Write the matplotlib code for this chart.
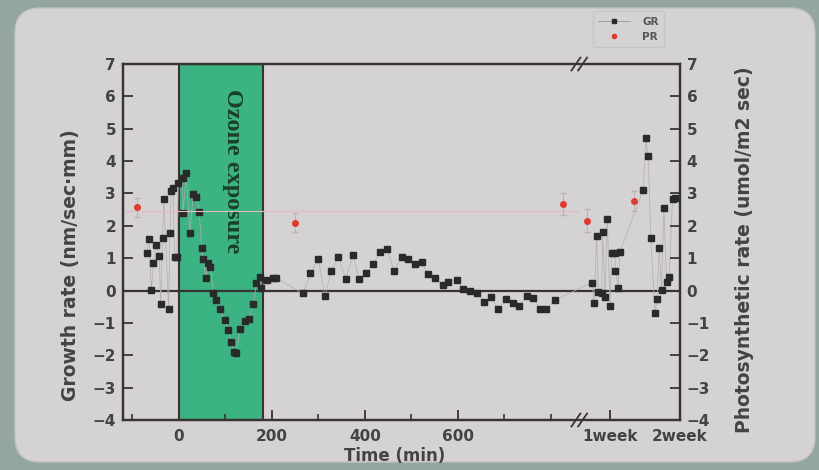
import numpy as np
import matplotlib
matplotlib.use("Agg")
import matplotlib.pyplot as plt
from matplotlib.patches import FancyBboxPatch
from matplotlib.lines import Line2D
from matplotlib.ticker import FixedLocator, NullFormatter

# growth rate, first day (minutes after start of ozone exposure)
gr_min = [-69, -64, -59, -55, -49, -42, -39, -35, -32, -22, -19, -16, -12, -9, -4, -1,
          8, 9, 16, 24, 31, 38, 44, 49, 52, 58, 62, 68, 74, 81, 88, 99, 106, 113, 118,
          124, 131, 142, 150, 160, 167, 174, 176, 189, 203, 210,
          267, 283, 300, 314, 328, 343, 359, 374, 388, 402, 418, 432, 447, 463, 479,
          493, 507, 522, 536, 551, 567, 579, 597, 611, 626, 640, 656, 672, 687, 703,
          718, 732, 748, 762, 776, 790, 809]
gr_val = [1.15, 1.59, 0.02, 0.84, 1.41, 1.07, -0.42, 1.61, 2.83, -0.56, 1.79, 3.08, 3.16, 1.04, 1.04, 3.31,
          3.47, 2.39, 3.62, 1.77, 2.98, 2.88, 2.44, 1.30, 0.99, 0.38, 0.84, 0.72, -0.09, -0.30, -0.58,
          -0.91, -1.22, -1.58, -1.90, -1.94, -1.20, -0.94, -0.89, -0.41, 0.22, 0.43, 0.08, 0.32, 0.40, 0.38,
          -0.09, 0.55, 0.96, -0.17, 0.61, 1.04, 0.36, 1.10, 0.36, 0.53, 0.82, 1.18, 1.27, 0.61, 1.04,
          0.96, 0.82, 0.87, 0.51, 0.38, 0.17, 0.27, 0.32, 0.04, -0.02, -0.07, -0.35, -0.21, -0.58, -0.27,
          -0.38, -0.48, -0.17, -0.24, -0.58, -0.58, -0.29]

# growth rate, later days
gr_day = [5.17, 5.39, 5.66, 5.82, 6.16, 6.26, 6.49, 6.72, 7.0, 7.17, 7.5, 7.55, 7.83, 8.0,
          10.33, 10.6, 10.83, 11.1, 11.5, 11.73, 11.93, 12.17, 12.4, 12.67, 12.93, 13.27, 13.5]
gr_day_val = [0.24, -0.40, 1.68, -0.04, -0.09, 1.80, -0.19, 2.21, -0.47, 1.17, 1.17, 0.61, 0.09, 1.20,
              3.11, 4.70, 4.16, 1.61, -0.69, -0.26, 1.30, 0.02, 2.54, 0.27, 0.43, 2.83, 2.87]

# photosynthetic rate
pr_min = [-90, 249, 825]
pr_val = [2.57, 2.10, 2.67]
pr_err = [0.3, 0.3, 0.35]
pr_day = [4.67, 9.4]
pr_day_val = [2.16, 2.77]
pr_day_err = [0.35, 0.3]

ozone_start, ozone_end = 0, 180

x_major = [0, 200, 400, 600, 10080, 20160]
x_labels = ['0', '200', '400', '600', '1week', '2week']
x_minor = [-100, 100, 300, 500, 700, 800]

# broken time axis: linear minutes up to the break, then days squeezed in
slope = 150 / 10080.0
xp = np.array([-1e5, 860, 5700, 1e6])
fp = np.array([-1e5, 860, 927 + (5700 - 10080) * slope, 927 + (1e6 - 10080) * slope])


def fwd(t):
    return np.interp(t, xp, fp)


def inv(p):
    return np.interp(p, fp, xp)


outer = '#93a69f'
panel = '#d4d2d3'
ink = '#3a3333'
txt = '#434343'

plt.rcParams['font.family'] = ['DejaVu Sans']
plt.rcParams['font.weight'] = 'bold'

fig = plt.figure(figsize=(8.2, 4.7), dpi=100)
fig.patch.set_facecolor(outer)
fig.patches.append(FancyBboxPatch((0.15, 0.08), 8.0, 4.54, boxstyle="round,pad=0,rounding_size=0.25",
                                  transform=fig.dpi_scale_trans, facecolor=panel, edgecolor='#c2c0c1',
                                  lw=1.0, zorder=-5))

ax = fig.add_axes([0.150, 0.1064, 0.679, 0.7574])
ax.set_facecolor('none')
ax.set_xscale('function', functions=(fwd, inv))
ax.set_xlim(-120, 20160)
ax.set_ylim(-4, 7)
ax.xaxis.set_major_locator(FixedLocator(x_major))
ax.xaxis.set_major_formatter(NullFormatter())
ax.xaxis.set_minor_locator(FixedLocator(x_minor))

ax.axvspan(ozone_start, ozone_end, facecolor='#3bb382', edgecolor=ink, lw=1.5, zorder=1)
ax.text(116, 3.68, 'Ozone exposure', rotation=270, ha='center', va='center',
        family='Liberation Serif', fontsize=17.5, fontweight='bold', color='#1b3f2b', zorder=2)
ax.axhline(0, color=ink, lw=1.6, zorder=2)

t_all = np.array(gr_min + [d * 1440 for d in gr_day])
v_all = np.array(gr_val + gr_day_val)
ax.plot(t_all, v_all, color='#b3adae', lw=0.5, zorder=3)
ax.plot(t_all, v_all, ls='none', marker='s', ms=4.6, color='#2a2a2a', zorder=4)

ax2 = ax.twinx()
ax2.set_ylim(-4, 7)
ax2.hlines(2.46, -120, 860, color='#e4bcbe', lw=0.8, zorder=1)
pr_t = np.array(pr_min + [d * 1440 for d in pr_day])
pr_v = np.array(pr_val + pr_day_val)
pr_e = np.array(pr_err + pr_day_err)
ax2.errorbar(pr_t, pr_v, yerr=pr_e, fmt='none', ecolor='#bdb3b4', elinewidth=0.7, capsize=2, zorder=3)
ax2.plot(pr_t, pr_v, ls='none', marker='o', ms=4, color='#e03a30', zorder=4)

for a in (ax, ax2):
    for s in a.spines.values():
        s.set_color(ink)
        s.set_linewidth(1.6)

ax.set_yticks(range(-4, 8))
ax2.set_yticks(range(-4, 8))
ax.tick_params(axis='both', which='major', direction='in', length=7, width=1.3, color=ink,
               labelsize=11, labelcolor=txt, pad=5)
ax.tick_params(axis='x', which='minor', direction='in', length=4, width=1.2, color=ink)
ax2.tick_params(axis='y', direction='in', length=7, width=1.3, color=ink,
                labelsize=11, labelcolor=txt, pad=5)

# time labels as plain texts placed through the broken scale
for loc, lab in zip(x_major, x_labels):
    ax.text(loc, -0.025, lab, transform=ax.get_xaxis_transform(), ha='center', va='top',
            fontsize=11, fontweight='bold', color=txt, clip_on=False)

ax.set_xlabel('Time (min)', fontsize=12, fontweight='bold', color=txt)
ax.xaxis.set_label_coords(0.488, -0.075)
ax.set_ylabel('Growth rate (nm/sec\u00b7mm)', fontsize=13.5, fontweight='bold', color=txt)
ax2.set_ylabel('Photosynthetic rate (umol/m2 sec)', fontsize=13.5, fontweight='bold', color=txt)
ax.yaxis.set_label_coords(-0.077, 0.435)
ax2.yaxis.set_label_coords(1.10, 0.478)

# axis break marks
bx = (fwd(5700) + fwd(860)) / 2
bx = (bx - fwd(-120)) / (fwd(20160) - fwd(-120))
for yb in (0, 1):
    ax.plot([bx - 0.006, bx + 0.006], [yb, yb], transform=ax.transAxes, color=panel, lw=4,
            clip_on=False, zorder=6)
    for off in (-0.006, 0.006):
        ax.plot([bx + off - 0.008, bx + off + 0.008], [yb - 0.018, yb + 0.018], transform=ax.transAxes,
                color=ink, lw=1.3, clip_on=False, zorder=7)

handles = [Line2D([], [], color='#9c9696', lw=0.6, marker='s', ms=3, markerfacecolor='#2a2a2a',
                  markeredgecolor='#2a2a2a'),
           Line2D([], [], ls='none', marker='o', ms=3, color='#e03a30')]
leg = fig.legend(handles, ['GR', 'PR'], loc='upper left', bbox_to_anchor=(0.717, 0.987), fontsize=7.5,
                 frameon=True, handlelength=3, labelspacing=0.5, borderpad=0.5, handletextpad=1.2)
leg.get_frame().set_facecolor(panel)
leg.get_frame().set_edgecolor('#c4c2c3')
for t in leg.get_texts():
    t.set_color('#555555')

fig.savefig('out.png', dpi=100, facecolor=fig.get_facecolor())
